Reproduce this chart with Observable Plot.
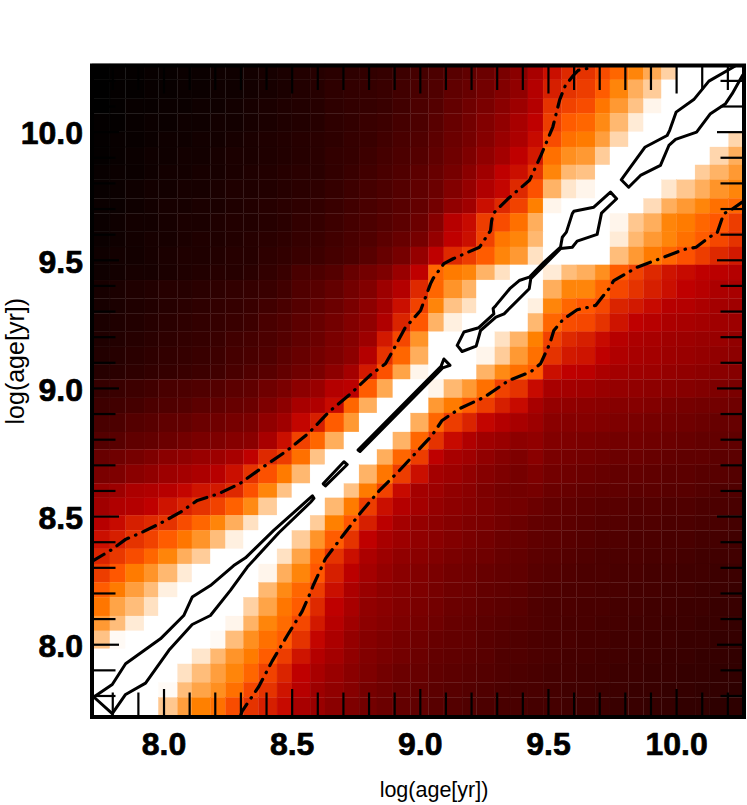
<!DOCTYPE html>
<html><head><meta charset="utf-8">
<script src="https://cdn.jsdelivr.net/npm/d3@7"></script>
<script src="https://cdn.jsdelivr.net/npm/@observablehq/plot@0.6"></script>
<style>html,body{margin:0;padding:0;background:#fff}svg{display:block}</style>
</head><body><div id="chart"></div>
<script>
const xDomain=[7.719,10.263];
const yDomain=[7.718,10.26];
const majorTicks=[8,8.5,9,9.5,10];
const minorTicks=[7.8,7.9,8.1,8.2,8.3,8.4,8.6,8.7,8.8,8.9,9.1,9.2,9.3,9.4,9.6,9.7,9.8,9.9,10.1,10.2];
const xEdges=[7.721,7.791,7.852,7.924,7.980,8.055,8.111,8.183,8.242,8.312,8.371,8.443,8.501,8.572,8.630,8.704,8.763,8.833,8.895,8.964,9.034,9.094,9.165,9.221,9.293,9.352,9.422,9.481,9.553,9.611,9.684,9.742,9.814,9.873,9.943,10.002,10.074,10.132,10.205,10.263];
const yEdges=[10.264,10.202,10.128,10.071,9.999,9.940,9.870,9.812,9.739,9.681,9.609,9.550,9.480,9.421,9.349,9.291,9.219,9.160,9.090,9.033,8.961,8.902,8.828,8.760,8.700,8.627,8.571,8.503,8.444,8.372,8.313,8.241,8.183,8.110,8.052,7.982,7.923,7.851,7.792,7.718];
// cell intensity (0-100), top row first, left to right
const matrix=[
[0,1,1,2,2,3,3,4,4,5,6,7,9,10,11,12,13,14,16,18,20,23,25,28,32,36,44,53,58,60,65,70,76,83,91,100,100,100,100],
[0,1,1,2,2,3,3,4,4,5,6,7,9,10,12,13,14,15,17,19,21,25,27,30,34,38,47,56,60,62,68,76,84,90,100,100,100,100,100],
[0,1,2,2,3,3,4,4,5,6,7,8,9,10,12,13,14,15,17,20,22,26,29,32,36,41,47,60,63,65,73,80,88,98,100,100,100,100,100],
[1,1,2,3,3,4,4,5,5,6,7,8,9,10,12,13,15,16,18,20,23,27,30,34,38,44,50,62,68,70,77,86,96,100,100,100,100,100,100],
[1,2,2,3,4,4,5,5,6,7,8,9,10,11,12,14,15,17,19,21,24,28,31,35,40,45,52,65,72,74,81,92,100,100,100,100,100,100,92],
[1,2,3,4,4,5,5,6,7,7,8,9,10,11,13,14,16,18,20,22,25,29,33,38,43,50,55,72,78,80,90,100,100,100,100,100,100,92,84],
[2,3,3,4,5,5,6,6,7,8,9,10,11,11,13,15,17,19,21,24,27,31,36,42,50,53,60,76,86,88,100,100,100,100,100,100,90,85,80],
[2,3,4,5,5,6,6,7,8,8,9,10,11,12,14,16,18,20,22,25,28,34,39,46,51,58,66,85,95,98,100,100,100,100,95,89,84,79,76],
[3,3,4,5,6,6,7,7,8,9,10,11,12,13,15,17,19,21,23,26,30,38,42,53,58,63,75,98,100,100,100,100,100,93,84,80,76,72,70],
[3,4,5,5,6,7,7,8,9,9,10,11,13,14,16,18,20,22,24,28,35,48,52,62,65,72,84,100,100,100,100,98,89,84,76,74,70,67,62],
[3,4,5,6,6,7,8,8,9,10,11,12,14,15,17,19,21,24,27,31,39,50,53,63,73,76,86,100,100,100,100,96,86,80,76,72,68,64,60],
[4,5,5,6,7,8,8,9,10,10,12,13,15,16,18,20,23,27,31,39,50,58,62,68,76,80,94,100,100,100,100,87,80,74,70,66,62,58,55],
[4,5,6,6,7,8,9,10,10,11,13,15,19,20,22,27,30,33,40,50,70,74,76,85,94,100,100,96,87,84,78,68,63,58,54,52,50,49,47],
[6,7,8,9,10,10,11,12,13,14,15,17,21,23,26,30,34,41,47,58,70,79,85,100,100,100,100,84,76,76,70,64,60,56,53,50,48,45,44],
[6,7,8,9,10,11,12,13,14,15,17,19,22,25,28,32,37,43,53,63,76,88,94,100,100,100,97,76,70,67,64,57,55,52,48,47,45,43,42],
[7,8,9,10,11,12,13,14,15,16,19,21,24,27,30,34,38,46,57,67,85,97,100,100,100,100,86,70,65,64,60,54,50,48,45,44,43,42,41],
[8,9,10,11,12,13,14,15,17,18,20,22,25,28,32,35,41,55,64,79,100,100,100,100,94,85,75,63,58,56,52,48,45,44,42,41,40,40,38],
[9,10,11,12,13,14,15,16,18,19,21,24,27,30,33,37,47,60,70,84,100,100,100,98,90,80,72,60,55,54,50,46,44,43,41,40,39,38,37],
[10,11,12,13,14,15,16,17,19,21,23,26,29,32,37,43,55,66,82,98,100,100,100,85,77,72,68,53,50,49,45,43,42,41,39,38,37,36,35],
[14,15,16,17,19,20,21,22,24,25,29,32,37,40,47,49,68,83,100,100,98,86,80,72,63,60,52,44,43,42,40,39,38,37,36,35,34,33,32],
[16,17,18,20,21,22,24,25,27,28,33,37,44,46,52,70,84,100,100,100,80,74,68,62,56,52,44,39,38,37,36,35,35,34,32,31,30,30,29],
[19,20,22,23,25,26,28,29,31,32,38,42,51,56,68,80,100,100,100,84,70,62,57,51,47,44,41,36,35,35,34,33,32,31,30,29,28,27,27],
[22,23,25,26,28,30,32,33,35,36,44,53,63,70,84,100,100,100,85,70,60,52,46,42,40,37,38,34,33,32,31,30,30,29,28,27,26,26,25],
[27,29,31,33,36,38,40,41,44,50,58,62,72,88,100,100,100,84,70,62,50,44,42,38,35,33,36,32,31,30,29,28,28,27,26,25,25,24,24],
[32,33,36,38,41,43,45,48,53,60,66,74,86,100,100,100,85,73,62,53,43,41,38,35,33,31,33,30,29,28,27,26,26,25,24,24,23,23,22],
[39,41,45,46,48,51,54,55,58,66,76,88,100,100,100,88,74,63,52,43,41,38,36,33,31,30,31,28,27,26,25,25,24,24,23,23,22,21,21],
[42,46,47,50,54,57,60,63,69,77,90,100,100,100,86,74,62,53,47,43,39,37,35,33,31,30,28,26,25,24,23,23,22,22,21,21,20,20,19],
[48,52,56,58,60,65,70,76,84,94,100,100,100,90,75,67,56,49,43,39,37,35,33,32,30,28,26,25,24,23,22,22,21,21,20,20,19,19,18],
[53,56,60,63,68,73,79,87,97,100,100,100,90,79,68,60,50,44,41,38,36,34,32,30,28,27,25,24,23,22,21,21,20,20,19,19,18,18,17],
[57,61,65,70,76,84,90,100,100,100,100,94,82,70,60,53,45,41,38,36,34,32,30,29,27,26,24,23,22,21,20,20,20,19,19,18,17,17,17],
[62,67,74,79,86,96,100,100,100,100,98,84,76,67,56,49,43,39,36,34,32,30,29,27,26,25,23,22,21,20,20,19,19,18,18,17,17,16,16],
[68,74,81,87,97,100,100,100,100,100,86,77,70,62,53,45,40,37,35,33,31,29,28,26,25,24,22,21,20,20,19,19,18,18,17,17,16,16,15],
[73,82,87,94,100,100,100,100,100,91,82,73,68,58,50,44,38,36,34,32,30,28,27,25,24,23,21,20,20,19,19,18,18,17,17,16,16,15,15],
[80,87,96,100,100,100,100,100,98,85,76,71,64,55,48,42,37,35,33,31,29,27,26,24,23,22,21,20,19,19,18,18,17,17,16,16,15,15,14],
[88,99,100,100,100,100,100,99,87,78,72,68,60,51,45,39,35,33,31,29,27,26,25,23,22,21,20,19,19,18,18,17,17,16,16,15,15,14,14],
[100,100,100,100,100,100,95,86,79,74,68,62,54,47,43,38,34,32,30,28,26,25,24,23,21,21,20,19,18,18,17,17,16,16,15,15,14,14,13],
[100,100,100,100,100,94,87,81,76,70,63,57,50,44,40,36,33,30,28,27,25,24,23,22,21,20,19,18,18,17,17,16,16,15,15,14,14,13,13],
[100,100,100,100,99,87,82,78,72,64,60,54,48,41,38,35,31,29,27,26,24,23,22,21,20,19,19,18,17,17,16,16,15,15,14,14,13,13,12],
[100,100,100,100,89,81,75,72,65,60,56,52,44,40,36,33,30,28,26,25,23,22,21,20,19,19,18,18,17,16,16,15,15,14,14,13,13,12,12]
];
const upperDashDot=[[7.719,8.325],[7.791,8.368],[7.850,8.411],[7.915,8.439],[7.986,8.474],[8.064,8.517],[8.130,8.563],[8.213,8.589],[8.295,8.628],[8.383,8.691],[8.481,8.758],[8.565,8.826],[8.643,8.908],[8.728,8.979],[8.806,9.053],[8.864,9.096],[8.890,9.142],[8.940,9.235],[9.001,9.304],[9.040,9.409],[9.050,9.429],[9.092,9.487],[9.128,9.506],[9.231,9.551],[9.274,9.616],[9.278,9.652],[9.284,9.682],[9.341,9.739],[9.426,9.812],[9.472,9.912],[9.517,10.020],[9.544,10.127],[9.566,10.182],[9.597,10.221],[9.616,10.241],[9.677,10.254]];
const lowerDashDot=[[8.298,7.720],[8.305,7.741],[8.370,7.837],[8.422,7.936],[8.481,8.036],[8.539,8.130],[8.572,8.205],[8.582,8.231],[8.630,8.336],[8.698,8.426],[8.767,8.515],[8.838,8.599],[8.916,8.677],[8.994,8.761],[9.046,8.817],[9.085,8.875],[9.153,8.921],[9.250,8.966],[9.345,9.031],[9.430,9.064],[9.469,9.096],[9.505,9.174],[9.521,9.226],[9.556,9.268],[9.612,9.307],[9.657,9.317],[9.684,9.324],[9.736,9.389],[9.755,9.421],[9.846,9.473],[9.924,9.502],[10.028,9.542],[10.076,9.551],[10.132,9.593],[10.158,9.606],[10.184,9.682],[10.210,9.695],[10.256,9.727]];
const solidA=[[7.726,7.796],[7.798,7.845],[7.850,7.926],[7.986,8.023],[8.077,8.114],[8.110,8.186],[8.181,8.231],[8.272,8.309],[8.318,8.339],[8.428,8.446],[8.559,8.563],[8.579,8.581],[8.585,8.571],[8.572,8.556],[8.448,8.437],[8.325,8.303],[8.259,8.212],[8.181,8.114],[8.110,8.079],[8.019,7.978],[7.928,7.850],[7.850,7.806],[7.798,7.731],[7.726,7.796]];
const solidB=[[8.621,8.628],[8.630,8.620],[8.715,8.703],[8.702,8.714],[8.621,8.628]];
const solidC=[[8.757,8.760],[9.081,9.086],[9.092,9.115],[9.116,9.090],[9.087,9.080],[8.765,8.754],[8.757,8.760]];
const solidD=[[9.144,9.168],[9.163,9.144],[9.218,9.165],[9.235,9.226],[9.295,9.278],[9.327,9.291],[9.425,9.389],[9.431,9.428],[9.548,9.546],[9.593,9.551],[9.612,9.575],[9.690,9.601],[9.707,9.684],[9.766,9.740],[9.742,9.766],[9.677,9.707],[9.599,9.691],[9.593,9.682],[9.570,9.610],[9.554,9.590],[9.547,9.551],[9.483,9.493],[9.425,9.434],[9.386,9.421],[9.349,9.389],[9.295,9.324],[9.284,9.312],[9.287,9.291],[9.228,9.237],[9.170,9.220],[9.144,9.168]];
const solidE=[[10.238,10.264],[10.217,10.251],[10.126,10.199],[10.067,10.127],[9.998,10.078],[9.973,10.007],[9.963,9.987],[9.876,9.941],[9.820,9.863],[9.784,9.814],[9.813,9.785],[9.859,9.831],[9.937,9.870],[9.970,9.948],[9.996,9.972],[10.078,10.000],[10.132,10.072],[10.191,10.111],[10.217,10.150],[10.257,10.221],[10.273,10.241]];
const axisLabel="log(age[yr])";

const cells=matrix.flatMap((row,r)=>row.map((v,c)=>({x1:xEdges[c],x2:xEdges[c+1],y1:yEdges[r+1],y2:yEdges[r],v})));
const font="'Liberation Sans',Arial,sans-serif";
const solid=(pts)=>Plot.line(pts,{x:"0",y:"1",stroke:"#000",strokeWidth:3,strokeLinejoin:"round",clip:true,curve:"linear"});
const dashed=(pts)=>Plot.line(pts,{x:"0",y:"1",stroke:"#000",strokeWidth:3.2,strokeDasharray:"14,7.5,0.5,7.5",strokeLinecap:"round",clip:true,curve:"linear"});
const tickOpts={label:null,strokeWidth:2.2,fill:"none"};

const svg=Plot.plot({
  width:747,height:805,
  marginLeft:91.5,marginRight:3.5,marginTop:65,marginBottom:88.5,
  style:{background:"#fff",fontFamily:font},
  x:{domain:xDomain,axis:null},
  y:{domain:yDomain,axis:null},
  color:{type:"linear",domain:[0,50,66.7,75,100],range:["#000000","#bf0000","#ff5500","#ff8000","#ffffff"],clamp:true},
  marks:[
    Plot.rect(cells,{x1:"x1",x2:"x2",y1:"y1",y2:"y2",fill:"v",stroke:"v",strokeWidth:0.3}),
    dashed(upperDashDot),dashed(lowerDashDot),
    solid(solidA),solid(solidB),solid(solidC),solid(solidD),solid(solidE),
    Plot.axisX({anchor:"bottom",ticks:minorTicks,tickSize:-24,...tickOpts}),
    Plot.axisX({anchor:"top",ticks:minorTicks,tickSize:-24,...tickOpts}),
    Plot.axisX({anchor:"bottom",ticks:majorTicks,tickSize:-27.5,...tickOpts}),
    Plot.axisX({anchor:"top",ticks:majorTicks,tickSize:-27.5,...tickOpts}),
    Plot.axisY({anchor:"left",ticks:minorTicks,tickSize:-24,...tickOpts}),
    Plot.axisY({anchor:"right",ticks:minorTicks,tickSize:-24,...tickOpts}),
    Plot.axisY({anchor:"left",ticks:majorTicks,tickSize:-27.5,...tickOpts}),
    Plot.axisY({anchor:"right",ticks:majorTicks,tickSize:-27.5,...tickOpts}),
    Plot.frame({stroke:"#000",strokeWidth:4}),
    Plot.text(majorTicks,{x:d=>d,frameAnchor:"bottom",dy:38,text:d=>d.toFixed(1),fontSize:32,fontWeight:"bold",fill:"#000",stroke:"#000",strokeWidth:0.7}),
    Plot.text(majorTicks,{y:d=>d,frameAnchor:"left",dx:-9,dy:2,textAnchor:"end",text:d=>d.toFixed(1),fontSize:32,fontWeight:"bold",fill:"#000",stroke:"#000",strokeWidth:0.7}),
    Plot.text([axisLabel],{frameAnchor:"bottom",dx:16,dy:80,text:d=>d,fontSize:21.5,fill:"#000"}),
    Plot.text([axisLabel],{frameAnchor:"left",dx:-76,dy:-30,rotate:-90,textAnchor:"middle",text:d=>d,fontSize:25,fill:"#000"})
  ]
});
document.getElementById("chart").append(svg);
</script></body></html>
